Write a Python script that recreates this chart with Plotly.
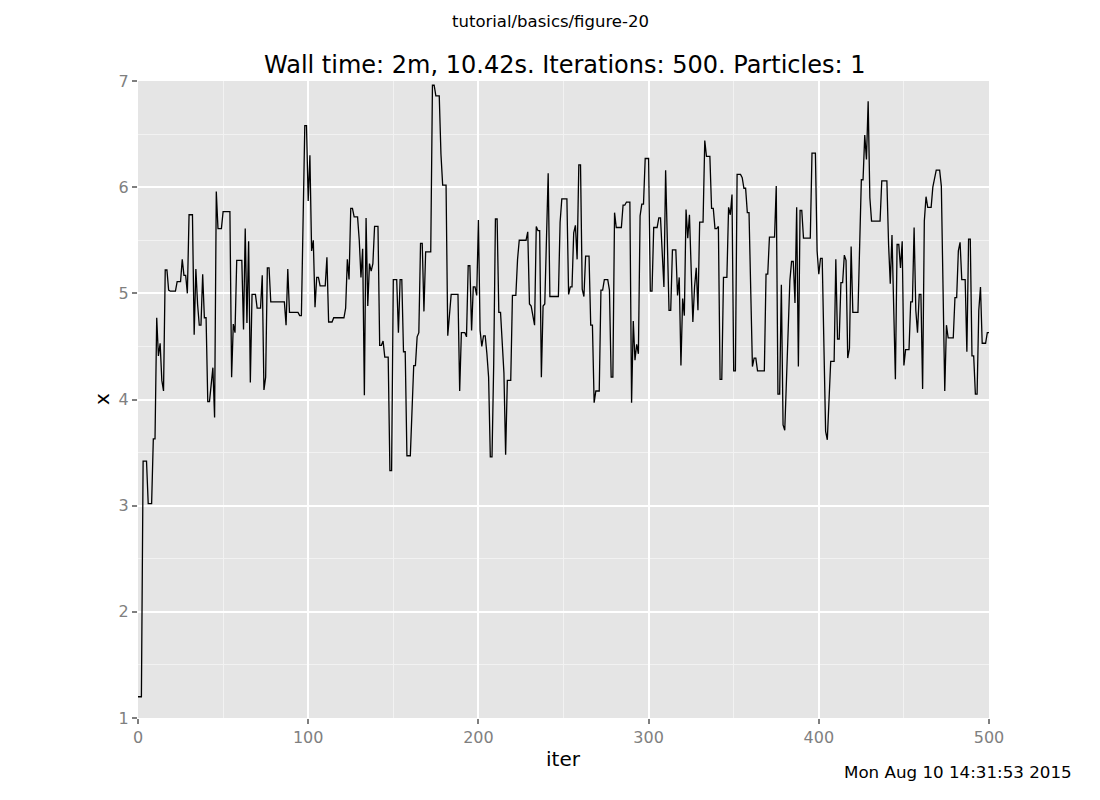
import plotly.graph_objects as go

# Trace vertices (iteration, value)
iters = [0, 2, 3, 5, 6, 8, 9, 10, 11, 12, 13, 14, 15, 16, 17, 18, 19, 22, 23, 25,
         26, 27, 28, 29, 30, 32, 33, 34, 35, 36, 37, 38, 39, 40, 41, 42, 44, 45, 46, 47,
         49, 50, 54, 55, 56, 57, 58, 61, 62, 63, 64, 65, 66, 67, 69, 70, 72, 73, 74, 75,
         76, 77, 78, 86, 87, 88, 89, 94, 95, 96, 98, 99, 100, 101, 102, 103, 104, 105, 106, 107,
         110, 111, 112, 114, 115, 121, 122, 123, 124, 125, 126, 127, 129, 130, 131, 132, 133, 134, 135, 136,
         137, 138, 139, 141, 142, 143, 144, 145, 147, 148, 149, 150, 152, 153, 154, 155, 156, 157, 158, 160,
         162, 163, 164, 165, 166, 167, 168, 169, 172, 173, 174, 175, 177, 178, 179, 181, 182, 184, 188, 189,
         190, 192, 193, 194, 195, 196, 197, 198, 199, 200, 201, 202, 203, 204, 205, 206, 207, 208, 209, 210,
         211, 212, 213, 214, 215, 216, 217, 219, 220, 222, 223, 224, 228, 229, 230, 231, 233, 234, 235, 236,
         237, 238, 239, 241, 242, 247, 248, 249, 252, 253, 254, 255, 256, 257, 258, 259, 260, 261, 262, 263,
         265, 266, 267, 268, 269, 271, 272, 273, 274, 276, 277, 278, 279, 280, 281, 284, 285, 286, 287, 289,
         290, 291, 292, 293, 294, 295, 296, 297, 298, 300, 301, 302, 303, 305, 306, 307, 308, 309, 310, 312,
         313, 314, 316, 317, 318, 319, 320, 321, 322, 323, 324, 325, 326, 327, 328, 329, 330, 332, 333, 334,
         336, 337, 338, 339, 340, 341, 342, 343, 344, 346, 347, 348, 349, 350, 351, 352, 354, 355, 356, 357,
         358, 359, 361, 362, 363, 364, 368, 369, 370, 371, 374, 375, 376, 377, 378, 379, 380, 383, 384, 385,
         386, 387, 388, 389, 390, 391, 395, 396, 398, 399, 400, 401, 402, 404, 405, 407, 409, 410, 411, 412,
         413, 414, 415, 416, 417, 418, 419, 420, 423, 425, 426, 427, 428, 429, 430, 431, 436, 437, 440, 441,
         442, 443, 445, 446, 447, 448, 449, 450, 451, 453, 454, 455, 456, 457, 458, 459, 460, 461, 462, 463,
         464, 466, 467, 469, 471, 472, 474, 475, 476, 479, 480, 481, 482, 483, 484, 486, 487, 488, 489, 490,
         491, 492, 493, 494, 495, 496, 498, 499, 500]

x_vals = [1.20, 1.20, 3.42, 3.42, 3.02, 3.02, 3.63, 3.63, 4.77, 4.41, 4.53, 4.18, 4.08, 5.22, 5.22, 5.03, 5.02, 5.02, 5.11, 5.11,
          5.32, 5.17, 5.17, 5.00, 5.74, 5.74, 4.61, 5.23, 4.90, 4.70, 4.70, 5.18, 4.77, 4.77, 3.98, 3.98, 4.30, 3.83, 5.96, 5.61,
          5.61, 5.77, 5.77, 4.21, 4.71, 4.63, 5.31, 5.31, 4.66, 5.61, 4.72, 5.49, 4.16, 4.99, 4.99, 4.86, 4.86, 5.17, 4.09, 4.21,
          5.24, 5.24, 4.92, 4.92, 4.70, 5.23, 4.82, 4.82, 4.79, 4.79, 6.58, 6.58, 5.87, 6.30, 5.40, 5.50, 4.87, 5.15, 5.15, 5.07,
          5.07, 5.34, 4.73, 4.73, 4.77, 4.77, 4.86, 5.32, 5.13, 5.80, 5.80, 5.72, 5.72, 5.50, 5.15, 5.42, 4.04, 5.71, 4.88, 5.28,
          5.21, 5.28, 5.63, 5.63, 4.51, 4.51, 4.55, 4.40, 4.40, 3.33, 3.33, 5.13, 5.13, 4.63, 5.13, 5.13, 4.45, 4.45, 3.47, 3.47,
          4.32, 4.32, 4.59, 4.63, 5.47, 5.47, 4.83, 5.39, 5.39, 6.96, 6.96, 6.86, 6.86, 6.31, 6.02, 6.02, 4.60, 4.99, 4.99, 4.08,
          4.63, 4.63, 4.59, 5.26, 5.26, 4.65, 5.06, 5.06, 4.98, 5.69, 4.65, 4.50, 4.60, 4.60, 4.43, 4.21, 3.46, 3.46, 4.34, 5.70,
          5.70, 4.82, 4.82, 4.55, 4.25, 3.48, 4.18, 4.18, 4.98, 4.98, 5.32, 5.50, 5.50, 5.58, 4.90, 4.88, 4.70, 5.63, 5.59, 5.59,
          4.21, 4.88, 4.90, 6.13, 4.97, 4.97, 5.67, 5.89, 5.89, 4.99, 5.06, 5.06, 5.57, 5.64, 5.32, 6.21, 6.21, 5.04, 4.97, 5.35,
          5.35, 4.70, 4.70, 3.97, 4.08, 4.08, 5.03, 5.03, 5.13, 5.13, 5.03, 4.21, 4.21, 5.76, 5.62, 5.62, 5.83, 5.83, 5.86, 5.86,
          3.97, 4.74, 4.37, 4.52, 4.43, 5.73, 5.84, 5.84, 6.27, 6.27, 5.02, 5.02, 5.62, 5.62, 5.71, 5.71, 5.43, 5.06, 6.16, 4.84,
          4.84, 5.41, 5.41, 4.98, 5.15, 4.32, 4.95, 4.79, 5.79, 5.52, 5.74, 5.15, 4.73, 5.06, 5.24, 4.84, 5.67, 5.67, 6.44, 6.29,
          6.29, 5.80, 5.80, 5.61, 5.61, 5.63, 4.19, 4.19, 5.15, 5.15, 5.81, 5.74, 5.93, 4.27, 4.27, 6.12, 6.12, 6.09, 5.99, 5.99,
          5.76, 5.76, 4.31, 4.39, 4.39, 4.27, 4.27, 5.18, 5.18, 5.53, 5.53, 6.01, 4.05, 4.05, 5.08, 3.76, 3.71, 5.12, 5.30, 5.30,
          4.91, 5.81, 4.31, 5.78, 5.78, 5.52, 5.52, 6.32, 6.32, 5.40, 5.18, 5.33, 5.33, 3.70, 3.62, 4.36, 4.36, 5.32, 4.57, 4.57,
          5.10, 5.10, 5.36, 5.31, 4.39, 4.48, 5.44, 4.82, 4.82, 6.07, 6.07, 6.49, 6.26, 6.81, 5.90, 5.68, 5.68, 6.06, 6.06, 5.46,
          5.09, 5.55, 4.19, 5.46, 5.46, 5.24, 5.49, 4.32, 4.47, 4.47, 4.92, 4.92, 5.62, 4.84, 4.63, 4.99, 4.99, 4.10, 5.68, 5.91,
          5.81, 5.81, 6.00, 6.16, 6.16, 6.01, 4.08, 4.70, 4.58, 4.58, 4.96, 4.96, 5.40, 5.48, 5.13, 5.13, 4.45, 5.51, 5.51, 4.41,
          4.41, 4.05, 4.05, 4.84, 5.06, 4.53, 4.53, 4.63, 4.63]

x_ticks = [0, 100, 200, 300, 400, 500]
y_ticks = [1, 2, 3, 4, 5, 6, 7]

suptitle = "tutorial/basics/figure-20"
title = "Wall time: 2m, 10.42s. Iterations: 500. Particles: 1"
timestamp = "Mon Aug 10 14:31:53 2015"

FONT = "DejaVu Sans"
W, H = 1100, 800
L, R, T, B = 138, 111, 81, 82
pw, ph = W - L - R, H - T - B


def px(xp):
    return (xp - L) / pw


def py(yp):
    return (H - B - yp) / ph


fig = go.Figure()
fig.add_trace(go.Scatter(x=iters, y=x_vals, mode="lines",
                         line=dict(color="black", width=1.3), showlegend=False,
                         hoverinfo="x+y"))

axis_common = dict(
    showgrid=True, gridcolor="white", gridwidth=2,
    zeroline=False, showline=False,
    ticks="outside", ticklen=5, tickwidth=2, tickcolor="#7f7f7f",
    tickfont=dict(family=FONT, size=16, color="#7f7f7f"),
)

fig.update_layout(
    width=W, height=H,
    margin=dict(l=L, r=R, t=T, b=B, pad=0),
    paper_bgcolor="white", plot_bgcolor="#e5e5e5",
    font=dict(family=FONT, color="black"),
    xaxis=dict(range=[0, 500], tickvals=x_ticks,
               minor=dict(dtick=50, tick0=0, showgrid=True, gridcolor="#f2f2f2", gridwidth=1, ticks=""),
               **axis_common),
    yaxis=dict(range=[1, 7], tickvals=y_ticks,
               minor=dict(dtick=0.5, tick0=1, showgrid=True, gridcolor="#f2f2f2", gridwidth=1, ticks=""),
               **axis_common),
    annotations=[
        dict(text=suptitle, xref="paper", yref="paper", x=px(550), y=py(22),
             xanchor="center", yanchor="middle", showarrow=False,
             font=dict(family=FONT, size=16.5, color="black")),
        dict(text=title, xref="paper", yref="paper", x=px(564), y=py(65),
             xanchor="center", yanchor="middle", showarrow=False,
             font=dict(family=FONT, size=24, color="black")),
        dict(text="iter", xref="paper", yref="paper", x=px(563), y=py(759),
             xanchor="center", yanchor="middle", showarrow=False,
             font=dict(family=FONT, size=20, color="black")),
        dict(text="x", xref="paper", yref="paper", x=px(102), y=py(399),
             xanchor="center", yanchor="middle", showarrow=False, textangle=-90,
             font=dict(family=FONT, size=20, color="black")),
        dict(text=timestamp, xref="paper", yref="paper", x=px(1074), y=py(772),
             xanchor="right", yanchor="middle", showarrow=False,
             font=dict(family=FONT, size=16.7, color="black")),
    ],
)

fig.write_html("out.html")
